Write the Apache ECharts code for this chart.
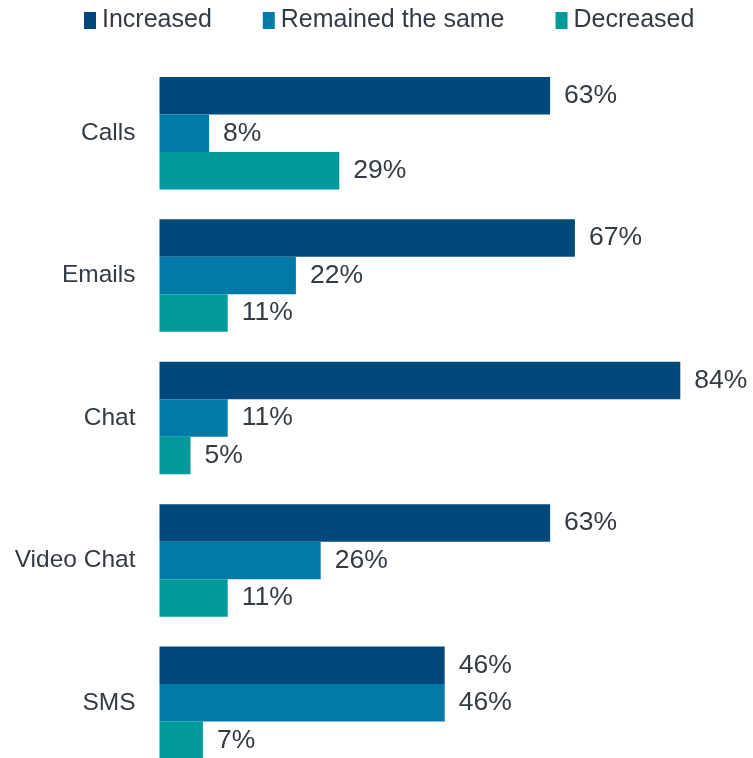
<!DOCTYPE html>
<html><head><meta charset="utf-8">
<script src="https://cdn.jsdelivr.net/npm/echarts@6/dist/echarts.min.js"></script>
<style>html,body{margin:0;padding:0;background:#fff;overflow:hidden}#c{width:780px;height:774px}</style>
</head><body><div id="c"></div>
<script>
const categories = ["Calls", "Emails", "Chat", "Video Chat", "SMS"];
const increased = [63, 67, 84, 63, 46];
const remained = [8, 22, 11, 26, 46];
const decreased = [29, 11, 5, 11, 7];
const seriesNames = ["Increased", "Remained the same", "Decreased"];
const colors = ["#00497A", "#007BA8", "#009A9A"];
const textColor = "#333B45";
const font = "Liberation Sans";

function mk(name, data, color) {
  return {
    name, type: "bar", data, barGap: "0%", barCategoryGap: "21%",
    itemStyle: { color },
    label: { show: true, position: "right", distance: 14, formatter: "{c}%",
      color: textColor, fontSize: 26.5, fontFamily: font, padding: [3, 0, 0, 0] }
  };
}
const chart = echarts.init(document.getElementById("c"), null, { renderer: "canvas" });
chart.setOption({
  animation: false,
  legend: {
    left: 79, top: 3, itemWidth: 12, itemHeight: 17, itemGap: 51,
    icon: "rect",
    textStyle: { color: textColor, fontSize: 25, fontFamily: font, padding: [0, 0, 0, 1] },
    data: seriesNames
  },
  grid: { left: 159.5, right: 0.5, top: 62, bottom: 0, containLabel: false },
  xAxis: { type: "value", min: 0, max: 100, show: false },
  yAxis: {
    type: "category", data: categories, inverse: true,
    axisLine: { show: false }, axisTick: { show: false },
    axisLabel: { margin: 24, color: textColor, fontSize: 24.5, fontFamily: font, padding: [3, 0, 0, 0] }
  },
  series: [
    mk(seriesNames[0], increased, colors[0]),
    mk(seriesNames[1], remained, colors[1]),
    mk(seriesNames[2], decreased, colors[2])
  ]
});
</script></body></html>
